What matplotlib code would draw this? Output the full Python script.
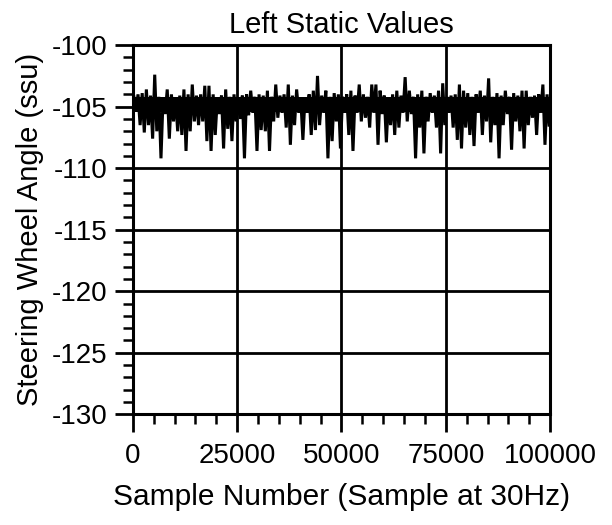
import numpy as np
import matplotlib
matplotlib.use('Agg')
import matplotlib.pyplot as plt
from matplotlib.ticker import MultipleLocator

plt.rcParams['font.family'] = ['Liberation Sans', 'DejaVu Sans']
plt.rcParams['axes.unicode_minus'] = False

# Signal: highest and lowest value in each block of 1000 samples
block_size = 1000
upper = [
    -104.2, -104.0, -103.9, -103.6, -104.1, -102.4, -104.2, -104.3, -103.6, -104.0,
    -104.3, -104.1, -103.6, -104.0, -103.2, -104.1, -104.0, -103.3, -103.3, -104.0,
    -104.3, -104.1, -103.6, -104.2, -104.0, -104.3, -104.1, -104.0, -103.7, -104.2,
    -104.0, -104.1, -103.7, -104.2, -103.2, -104.1, -104.0, -103.2, -104.1, -103.6,
    -104.4, -104.3, -104.0, -103.7, -102.5, -104.1, -103.7, -104.2, -103.9, -104.0,
    -104.2, -104.0, -103.7, -104.1, -103.2, -104.0, -104.2, -103.2, -103.2, -103.7,
    -104.1, -104.3, -104.0, -103.7, -104.1, -102.6, -103.7, -104.2, -104.0, -103.7,
    -104.2, -103.9, -104.1, -103.7, -103.1, -104.2, -104.1, -104.0, -103.2, -103.7,
    -103.9, -104.2, -104.0, -103.7, -104.1, -102.7, -104.2, -103.9, -104.1, -103.7,
    -104.2, -103.9, -104.1, -103.7, -103.7, -104.2, -104.1, -104.0, -103.2, -104.0,
]
lower = [
    -105.4, -106.5, -107.1, -106.5, -107.6, -107.0, -109.2, -105.6, -107.6, -106.2,
    -107.0, -107.3, -108.6, -107.0, -106.2, -106.5, -106.2, -107.8, -108.6, -107.3,
    -105.6, -108.4, -106.8, -107.8, -106.2, -106.0, -109.2, -105.7, -105.5, -108.6,
    -106.9, -107.0, -108.6, -106.2, -105.9, -105.5, -106.7, -108.1, -106.5, -105.5,
    -107.7, -105.5, -107.3, -106.9, -106.5, -105.5, -109.2, -107.8, -106.2, -108.4,
    -105.5, -107.3, -108.6, -105.5, -106.2, -105.9, -106.7, -105.5, -108.1, -105.6,
    -107.9, -106.5, -107.3, -106.7, -105.5, -106.2, -105.6, -109.2, -106.7, -108.8,
    -106.2, -105.5, -106.7, -108.8, -106.5, -105.5, -106.7, -107.7, -108.4, -106.7,
    -107.3, -108.2, -105.5, -107.3, -106.2, -107.9, -106.5, -109.2, -106.5, -105.6,
    -108.5, -106.2, -107.0, -108.4, -106.5, -105.9, -107.3, -105.5, -108.1, -106.5,
]
# dense noise band the trace never leaves
noise_top = -104.2
noise_bottom = -105.4

x_ticks = [0, 25000, 50000, 75000, 100000]
y_ticks = [-130, -125, -120, -115, -110, -105, -100]

# interleave the block extremes so the trace swings between them
starts = np.arange(len(upper)) * block_size
xs = np.column_stack([starts + 250, starts + 750]).ravel()
ys = np.column_stack([upper, lower]).ravel()

fig = plt.figure(figsize=(6.12, 5.25), dpi=100)
ax = fig.add_axes([0.217, 0.211, 0.682, 0.703])

ax.fill_between([0, len(upper) * block_size], noise_bottom, noise_top,
                color='black', linewidth=0, zorder=3)
ax.plot(xs, ys, color='black', linewidth=2.2, solid_joinstyle='miter', zorder=3)

ax.set_xlim(0, 100000)
ax.set_ylim(-130, -100)
ax.set_xticks(x_ticks)
ax.set_yticks(y_ticks)
ax.xaxis.set_minor_locator(MultipleLocator(5000))
ax.yaxis.set_minor_locator(MultipleLocator(1))

ax.grid(True, which='major', color='black', linewidth=2.0)
for s in ax.spines.values():
    s.set_linewidth(2.2)

ax.tick_params(axis='y', which='major', direction='out', length=13, width=2.0,
               labelsize=20, pad=5)
ax.tick_params(axis='y', which='minor', direction='out', length=7, width=1.8)
ax.tick_params(axis='x', which='major', direction='out', length=13, width=2.0,
               labelsize=20, pad=8)
ax.tick_params(axis='x', which='minor', direction='out', length=7, width=1.8)

ax.set_title('Left Static Values', fontsize=21, pad=9)
ax.set_xlabel('Sample Number (Sample at 30Hz)', fontsize=21.5, labelpad=10)
ax.set_ylabel('Steering Wheel Angle (ssu)', fontsize=21, labelpad=6)

fig.savefig('out.png', dpi=100)
